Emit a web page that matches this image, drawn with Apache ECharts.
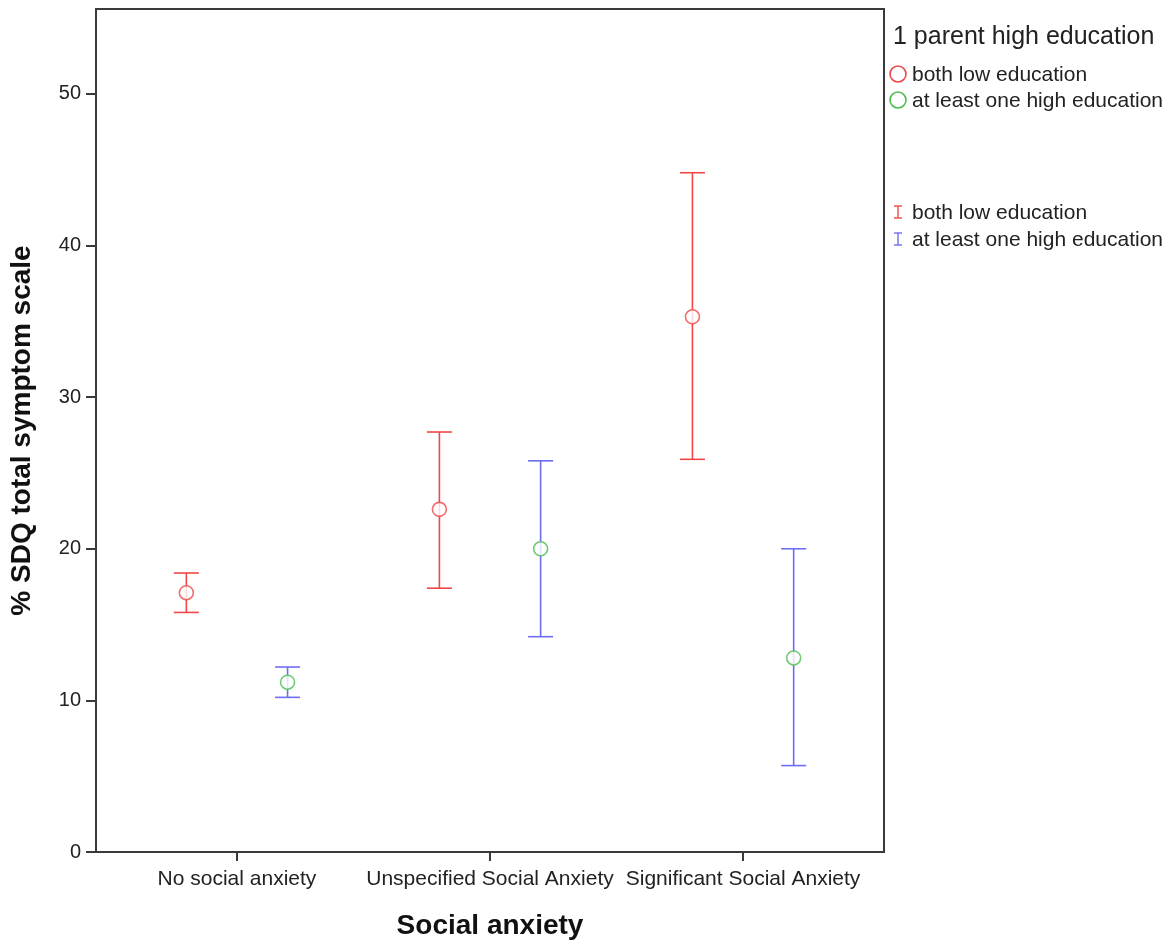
<!DOCTYPE html>
<html>
<head>
<meta charset="utf-8">
<script src="https://cdn.jsdelivr.net/npm/echarts@6/dist/echarts.min.js"></script>
<style>
html,body{margin:0;padding:0;background:#fff;}
#main{width:1172px;height:942px;}
</style>
</head>
<body>
<div id="main"></div>
<script>
const categories = ['No social anxiety', 'Unspecified Social Anxiety', 'Significant Social Anxiety'];
const lowMean  = [17.1, 22.6, 35.3];
const lowLower = [15.8, 17.4, 25.9];
const lowUpper = [18.4, 27.7, 44.8];
const highMean  = [11.2, 20.0, 12.8];
const highLower = [10.2, 14.2, 5.7];
const highUpper = [12.2, 25.8, 20.0];
const yTicks = [0, 10, 20, 30, 40, 50];
const seriesNames = ['both low education', 'at least one high education'];
const legendTitle = '1 parent high education';

const RED = '#f04848', GREEN = '#4cbd52', BLUE = '#6d6df2';
const OFF = 0.2;
const FONT = 'Liberation Sans, Arial, sans-serif';

function errData(lo, hi, off) {
  return categories.map((c, i) => [i + 1 + off, lo[i], hi[i]]);
}
function meanData(m, off) {
  return categories.map((c, i) => [i + 1 + off, m[i]]);
}
function errRender(color) {
  return function (params, api) {
    const x = api.value(0);
    const lo = api.coord([x, api.value(1)]);
    const hi = api.coord([x, api.value(2)]);
    const w = 12.5;
    const st = { stroke: color, lineWidth: 1.6 };
    return {
      type: 'group',
      children: [
        { type: 'line', shape: { x1: lo[0], y1: lo[1], x2: hi[0], y2: hi[1] }, style: st },
        { type: 'line', shape: { x1: lo[0] - w, y1: lo[1], x2: lo[0] + w, y2: lo[1] }, style: st },
        { type: 'line', shape: { x1: hi[0] - w, y1: hi[1], x2: hi[0] + w, y2: hi[1] }, style: st }
      ]
    };
  };
}

const chart = echarts.init(document.getElementById('main'));
const axisCol = '#3a3a3a';

function ibar(x, y1, y2, color) {
  const st = { stroke: color, lineWidth: 1.4 };
  return [
    { type: 'line', shape: { x1: x - 4, y1: y1, x2: x + 4, y2: y1 }, style: st },
    { type: 'line', shape: { x1: x, y1: y1, x2: x, y2: y2 }, style: st },
    { type: 'line', shape: { x1: x - 4, y1: y2, x2: x + 4, y2: y2 }, style: st }
  ];
}
function ltext(x, y, t, size) {
  return { type: 'text', x: x, y: y, style: { text: t, fontSize: size, fill: '#222', fontFamily: FONT, verticalAlign: 'middle', align: 'left' } };
}

chart.setOption({
  backgroundColor: '#fff',
  animation: false,
  grid: { left: 96, top: 9, right: 288, bottom: 90, outerBoundsMode: 'none', containLabel: false,
          show: true, borderColor: axisCol, borderWidth: 2, backgroundColor: '#fff' },
  xAxis: {
    type: 'value', min: 0.443, max: 3.557,
    splitLine: { show: false },
    axisLine: { show: true, lineStyle: { color: axisCol, width: 2 } },
    axisTick: { show: true, customValues: [1, 2, 3], length: 9, lineStyle: { color: axisCol, width: 2 } },
    axisLabel: {
      customValues: [1, 2, 3], margin: 17,
      formatter: v => categories[Math.round(v) - 1] || '',
      color: '#222', fontFamily: FONT, fontSize: 21
    },
    name: 'Social anxiety', nameLocation: 'middle', nameGap: 60,
    nameTextStyle: { color: '#111', fontWeight: 'bold', fontSize: 28, fontFamily: FONT }
  },
  yAxis: {
    type: 'value', min: 0, max: 55.6,
    splitLine: { show: false },
    axisLine: { show: true, lineStyle: { color: axisCol, width: 2 } },
    axisTick: { show: true, customValues: yTicks, length: 10, lineStyle: { color: axisCol, width: 2 } },
    axisLabel: { customValues: yTicks, margin: 15, color: '#222', fontFamily: FONT, fontSize: 20 },
    name: '% SDQ total symptom scale', nameLocation: 'middle', nameGap: 60,
    nameTextStyle: { color: '#111', fontWeight: 'bold', fontSize: 28, fontFamily: FONT }
  },
  series: [
    { type: 'custom', name: seriesNames[0] + ' CI', renderItem: errRender(RED), data: errData(lowLower, lowUpper, -OFF), z: 2 },
    { type: 'custom', name: seriesNames[1] + ' CI', renderItem: errRender(BLUE), data: errData(highLower, highUpper, OFF), z: 2 },
    { type: 'scatter', name: seriesNames[0], data: meanData(lowMean, -OFF), symbol: 'circle', symbolSize: 14,
      itemStyle: { color: '#fff', borderColor: RED, borderWidth: 1.6 }, z: 3 },
    { type: 'scatter', name: seriesNames[1], data: meanData(highMean, OFF), symbol: 'circle', symbolSize: 14,
      itemStyle: { color: '#fff', borderColor: GREEN, borderWidth: 1.6 }, z: 3 }
  ],
  graphic: [
    ltext(893, 37, legendTitle, 25),
    { type: 'circle', shape: { cx: 898, cy: 74, r: 8 }, style: { fill: 'none', stroke: RED, lineWidth: 1.6 } },
    ltext(912, 75, seriesNames[0], 21),
    { type: 'circle', shape: { cx: 898, cy: 100, r: 8 }, style: { fill: 'none', stroke: GREEN, lineWidth: 1.6 } },
    ltext(912, 101, seriesNames[1], 21),
    ...ibar(898, 206, 218, RED),
    ltext(912, 213, seriesNames[0], 21),
    ...ibar(898, 233, 245, BLUE),
    ltext(912, 240, seriesNames[1], 21)
  ]
});
</script>
</body>
</html>
